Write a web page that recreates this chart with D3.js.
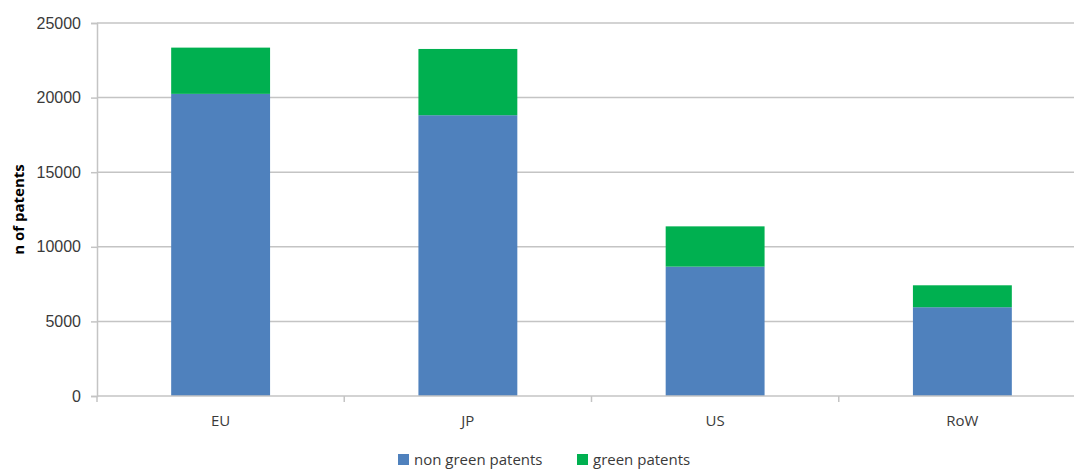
<!DOCTYPE html>
<html>
<head>
<meta charset="utf-8">
<script src="https://cdn.jsdelivr.net/npm/d3@7"></script>
<style>
  html, body { margin: 0; padding: 0; background: #fff; overflow: hidden; }
  svg { display: block; font-family: "Open Sans", "Liberation Sans", sans-serif; }
</style>
</head>
<body>
<svg id="chart" width="1074" height="470"></svg>
<script>
// Patent counts by region, split into non-green and green patents
const regions = ["EU", "JP", "US", "RoW"];
const nonGreen = [20250, 18820, 8670, 5950];
const green = [3100, 4440, 2700, 1470];
const seriesNames = ["non green patents", "green patents"];
const seriesColors = ["#4f81bd", "#00b050"];
const yTicks = [0, 5000, 10000, 15000, 20000, 25000];

const svg = d3.select("#chart");
const margin = { left: 97, top: 23, bottom: 74 };
const plotRight = 1086;
const plotBottom = 470 - margin.bottom;

const x = d3.scaleBand().domain(regions).range([margin.left, plotRight]).paddingInner(0.6).paddingOuter(0.3);
const y = d3.scaleLinear().domain([0, 25000]).range([plotBottom, margin.top]);

const rows = regions.map((r, i) => ({ region: r, [seriesNames[0]]: nonGreen[i], [seriesNames[1]]: green[i] }));
const stacked = d3.stack().keys(seriesNames)(rows);

// Horizontal gridlines
svg.append("g")
  .selectAll("line")
  .data(yTicks.filter(t => t > 0))
  .join("line")
  .attr("x1", margin.left).attr("x2", plotRight)
  .attr("y1", d => y(d)).attr("y2", d => y(d))
  .attr("stroke", "#c4c4c4").attr("stroke-width", 1.5);

// Stacked bars
svg.append("g")
  .selectAll("g")
  .data(stacked)
  .join("g")
  .attr("fill", (d, i) => seriesColors[i])
  .selectAll("rect")
  .data(d => d)
  .join("rect")
  .attr("x", d => x(d.data.region))
  .attr("width", x.bandwidth())
  .attr("y", d => y(d[1]))
  .attr("height", d => y(d[0]) - y(d[1]));

// Y axis
const yAxis = svg.append("g")
  .attr("transform", `translate(${margin.left},0)`)
  .call(d3.axisLeft(y).tickValues(yTicks).tickSize(6).tickPadding(10).tickFormat(d3.format("d")));
yAxis.select(".domain").attr("stroke", "#c4c4c4").attr("stroke-width", 1.5);
yAxis.selectAll(".tick line").attr("stroke", "#c4c4c4").attr("stroke-width", 1.5);
yAxis.selectAll(".tick text").attr("fill", "#3a3a3a").style("font-size", "16px");

// X axis with category dividers
const xAxis = svg.append("g").attr("transform", `translate(0,${plotBottom})`);
xAxis.append("line")
  .attr("x1", margin.left).attr("x2", plotRight)
  .attr("stroke", "#c4c4c4").attr("stroke-width", 1.5);
const step = x.step();
const dividers = d3.range(regions.length + 1).map(i => margin.left + i * step);
xAxis.selectAll("line.div")
  .data(dividers)
  .join("line")
  .attr("class", "div")
  .attr("x1", d => d).attr("x2", d => d)
  .attr("y1", 0).attr("y2", 6)
  .attr("stroke", "#c4c4c4").attr("stroke-width", 1.5);
xAxis.selectAll("text")
  .data(regions)
  .join("text")
  .attr("x", d => x(d) + x.bandwidth() / 2)
  .attr("y", 30)
  .attr("text-anchor", "middle")
  .attr("fill", "#3a3a3a")
  .style("font-size", "15px")
  .text(d => d);

// Y axis title
svg.append("text")
  .attr("transform", `translate(24,${(margin.top + plotBottom) / 2}) rotate(-90)`)
  .attr("text-anchor", "middle")
  .attr("fill", "#000")
  .style("font-size", "15px")
  .style("font-weight", "bold")
  .text("n of patents");

// Legend
const legendItems = [{ x: 398 }, { x: 577 }];
const legend = svg.append("g");
seriesNames.forEach((name, i) => {
  const g = legend.append("g").attr("transform", `translate(${legendItems[i].x},0)`);
  g.append("rect").attr("x", 0).attr("y", 454).attr("width", 11).attr("height", 11).attr("fill", seriesColors[i]);
  g.append("text").attr("x", 16).attr("y", 465)
    .attr("fill", "#3a3a3a").style("font-size", "15px").text(name);
});
</script>
</body>
</html>
